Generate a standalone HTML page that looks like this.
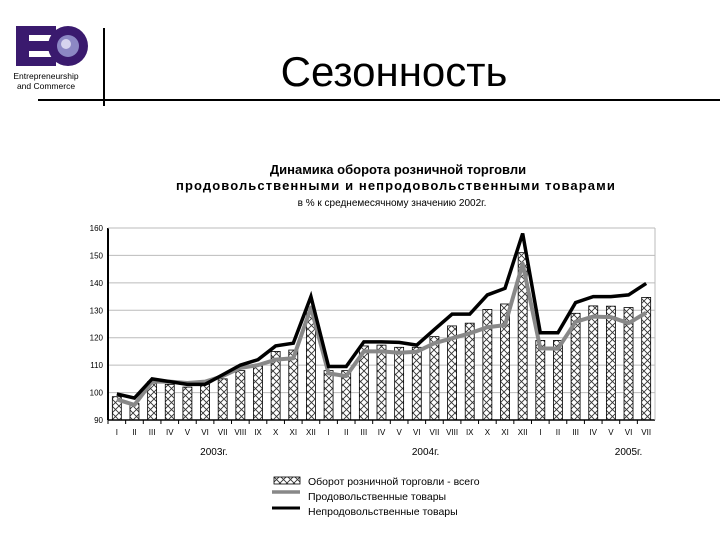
<!DOCTYPE html>
<html><head><meta charset="utf-8">
<style>
body{margin:0;background:#fff;width:720px;height:540px;overflow:hidden;font-family:"Liberation Sans",sans-serif;}
svg{position:absolute;left:0;top:0}
</style></head>
<body>
<svg width="720" height="540" xmlns="http://www.w3.org/2000/svg">
<defs>
<pattern id="hatch" width="7" height="7" patternUnits="userSpaceOnUse">
<rect width="7" height="7" fill="#fff"/>
<path d="M0,0L7,7M7,0L0,7" stroke="#333" stroke-width="0.9"/>
</pattern>
</defs>
<g>
<rect x="16" y="26" width="40" height="40" fill="#3a1a6e"/>
<rect x="29" y="35" width="27" height="6" fill="#fff"/>
<rect x="29" y="51" width="27" height="6" fill="#fff"/>
<circle cx="68" cy="46" r="20" fill="#3a1a6e"/>
<circle cx="68" cy="46" r="11" fill="#8c88c4"/>
<circle cx="66" cy="44" r="5" fill="#d6d4ee"/>
<text x="46" y="79" font-size="8.5" text-anchor="middle" fill="#000">Entrepreneurship</text>
<text x="46" y="89" font-size="8.5" text-anchor="middle" fill="#000">and Commerce</text>
</g>
<line x1="104" y1="28" x2="104" y2="106" stroke="#000" stroke-width="2"/>
<line x1="38" y1="100" x2="720" y2="100" stroke="#000" stroke-width="2"/>
<text x="394" y="86" font-size="42" text-anchor="middle" fill="#000">Сезонность</text>
<text x="398" y="174" font-size="13" font-weight="bold" text-anchor="middle">Динамика оборота розничной торговли</text>
<text x="396" y="190" font-size="13" font-weight="bold" text-anchor="middle" letter-spacing="1.1">продовольственными и непродовольственными товарами</text>
<text x="392" y="206" font-size="10" text-anchor="middle">в % к среднемесячному значению 2002г.</text>
<g id="chart"></g>
<g>
<rect x="274" y="477" width="26" height="7" fill="url(#hatch)" stroke="#000" stroke-width="0.8"/>
<text x="308" y="485" font-size="10.5">Оборот розничной торговли - всего</text>
<line x1="272" y1="492" x2="300" y2="492" stroke="#888" stroke-width="3.5"/>
<text x="308" y="500" font-size="10.5">Продовольственные товары</text>
<line x1="272" y1="508" x2="300" y2="508" stroke="#000" stroke-width="3"/>
<text x="308" y="515" font-size="10.5">Непродовольственные товары</text>
</g>
</svg>
<script>
const months=["I","II","III","IV","V","VI","VII","VIII","IX","X","XI","XII","I","II","III","IV","V","VI","VII","VIII","IX","X","XI","XII","I","II","III","IV","V","VI","VII"];
const totalValues=[98.5,96,104,103,102,103,105,108,110,115,115.5,130,108,108,117,117.3,116.5,116.5,120.4,124.3,125.3,130.3,132.3,151,119,119,128.9,131.6,131.5,131,134.7];
const foodValues=[97.5,95.5,104,104,103.5,104,106,109,110,112,112.5,131,107,106,115,115,114.5,114.9,118,119.8,121.6,123.8,124.6,147,116.1,116,125.8,127.7,127.5,125.3,129.1];
const nonfoodValues=[99.5,98,105,104,103,103,106.5,110,112,117,118,135,109.5,109.5,118.5,118.5,118.3,117.3,123,128.6,128.6,135.6,138,158,121.8,121.8,132.8,135,135,135.6,139.8];
const yTicks=[90,100,110,120,130,140,150,160];
const yearLabels=["2003г.","2004г.","2005г."];
const yearIndex=[5.5,17.5,29];
const NS="http://www.w3.org/2000/svg";
const L=108,R=655,T=228,B=420,ymin=90,ymax=160;
const step=(R-L)/months.length;
const x=i=>L+step*(i+0.5);
const y=v=>B-(v-ymin)/(ymax-ymin)*(B-T);
const g=document.getElementById('chart');
function mk(tag,attrs){const e=document.createElementNS(NS,tag);for(const k in attrs)e.setAttribute(k,attrs[k]);g.appendChild(e);return e;}
yTicks.forEach(t=>{
 if(t>ymin){const gl=mk('line',{x1:L,x2:R,y1:y(t),y2:y(t),stroke:'#bbb','stroke-width':1});
 
 }
 const tk=mk('text',{x:L-5,y:y(t)+3,'font-size':8,'text-anchor':'end'});tk.textContent=t;
 
 
});
totalValues.forEach((v,i)=>{
 const b=mk('rect',{x:x(i)-4.5,y:y(v),width:9,height:B-y(v),fill:'url(#hatch)',stroke:'#000','stroke-width':0.8});
 
 
});
const ya=mk('line',{x1:L,x2:L,y1:T,y2:B,stroke:'#000','stroke-width':2});


const xa=mk('line',{x1:L,x2:R,y1:B,y2:B,stroke:'#000','stroke-width':1.5});


const rb=mk('line',{x1:R,x2:R,y1:T,y2:B,stroke:'#bbb','stroke-width':1});


const tl=mk('line',{x1:L,x2:R,y1:T,y2:T,stroke:'#bbb','stroke-width':1});


months.forEach((m,i)=>{
 const tk=mk('line',{x1:L+step*i,x2:L+step*i,y1:B,y2:B+4,stroke:'#000'});
 
 
 const t=mk('text',{x:x(i),y:B+15,'font-size':8,'text-anchor':'middle'});t.textContent=m;
 
 
});
yearLabels.forEach((s,i)=>{
 const t=mk('text',{x:x(yearIndex[i]),y:B+35,'font-size':10,'text-anchor':'middle'});t.textContent=s;
 
 
});
const pts=a=>a.map((v,i)=>x(i)+','+y(v)).join(' ');
const lf=mk('polyline',{points:pts(foodValues),fill:'none',stroke:'#888','stroke-width':4,'stroke-linejoin':'round'});


const ln=mk('polyline',{points:pts(nonfoodValues),fill:'none',stroke:'#000','stroke-width':3.5,'stroke-linejoin':'miter'});


</script>
</body></html>
